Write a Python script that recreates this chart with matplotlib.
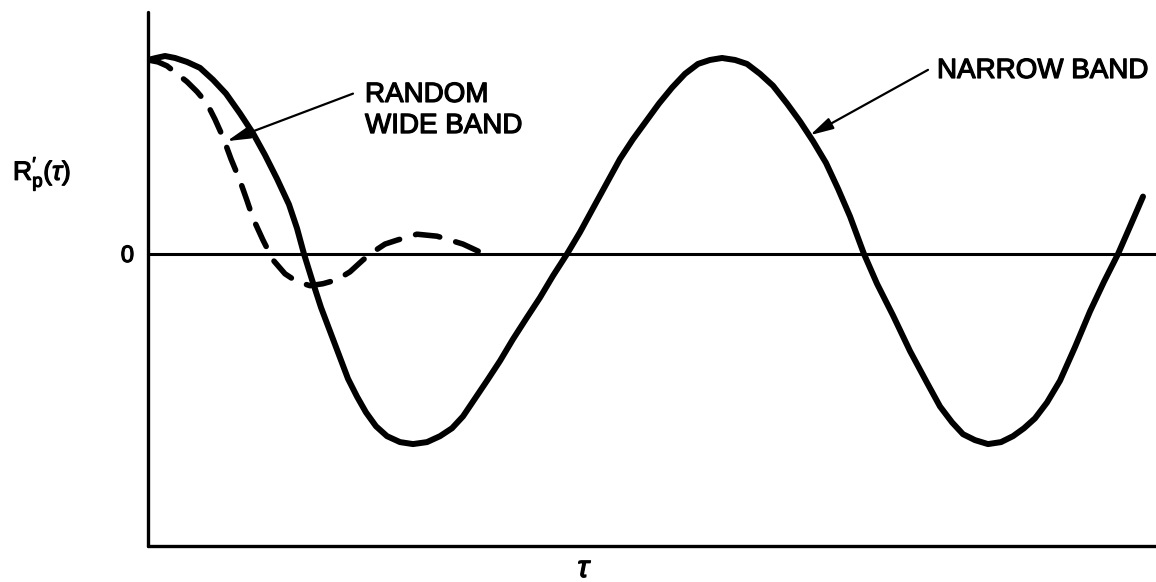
import matplotlib
matplotlib.use("Agg")
import matplotlib.pyplot as plt
import matplotlib.patheffects as pe

plt.rcParams['font.family'] = ['Liberation Sans', 'DejaVu Sans']
plt.rcParams['mathtext.fontset'] = 'custom'
plt.rcParams['mathtext.rm'] = 'Liberation Sans'
plt.rcParams['mathtext.it'] = 'Liberation Sans:italic'

# Narrow band autocorrelation (tau, R)
narrow_tau = [0.00, 0.08, 0.17, 0.27, 0.39, 0.52, 0.65, 0.78, 0.92, 1.05, 1.17, 1.29,
              1.41, 1.49, 1.56, 1.64, 1.73, 1.82, 1.91, 2.00, 2.09, 2.18, 2.28, 2.39,
              2.52, 2.65, 2.79, 2.92, 3.04, 3.15, 3.27, 3.39, 3.52, 3.65, 3.79, 3.92,
              4.05, 4.19, 4.32, 4.46, 4.59, 4.72, 4.85, 4.98, 5.11, 5.24, 5.37, 5.50,
              5.62, 5.74, 5.87, 5.99, 6.12, 6.25, 6.39, 6.52, 6.65, 6.78, 6.90, 7.02,
              7.16, 7.29, 7.45, 7.62, 7.79, 7.92, 8.04, 8.15, 8.27, 8.40, 8.53, 8.65,
              8.76, 8.87, 8.99, 9.12, 9.27, 9.42, 9.56, 9.70, 9.83, 9.95]
narrow_R = [0.98, 0.99, 1.00, 0.99, 0.97, 0.94, 0.88, 0.81, 0.71, 0.61, 0.50, 0.38,
            0.25, 0.13, 0.00, -0.13, -0.27, -0.39, -0.51, -0.63, -0.72, -0.80, -0.87, -0.92,
            -0.95, -0.96, -0.95, -0.92, -0.88, -0.82, -0.73, -0.64, -0.54, -0.43, -0.32, -0.22,
            -0.11, 0.00, 0.11, 0.24, 0.36, 0.48, 0.58, 0.67, 0.76, 0.84, 0.91, 0.96,
            0.98, 0.99, 0.98, 0.96, 0.91, 0.85, 0.76, 0.67, 0.57, 0.46, 0.33, 0.19,
            0.00, -0.15, -0.31, -0.49, -0.65, -0.77, -0.85, -0.91, -0.94, -0.96, -0.95, -0.92,
            -0.88, -0.83, -0.75, -0.64, -0.47, -0.29, -0.14, 0.00, 0.15, 0.29]

# Random wide band autocorrelation (tau, R)
wide_tau = [0.00, 0.10, 0.19, 0.29, 0.39, 0.49, 0.59, 0.67, 0.75, 0.83, 0.92, 0.99,
            1.05, 1.15, 1.25, 1.37, 1.49, 1.62, 1.75, 1.89, 2.02, 2.15, 2.25, 2.37,
            2.49, 2.69, 2.89, 3.02, 3.15, 3.32]
wide_R = [0.98, 0.97, 0.95, 0.91, 0.87, 0.82, 0.76, 0.68, 0.59, 0.48, 0.37, 0.27,
          0.18, 0.07, -0.03, -0.10, -0.14, -0.16, -0.15, -0.13, -0.09, -0.03, 0.01, 0.05,
          0.07, 0.10, 0.09, 0.07, 0.05, 0.01]

label_random = ["RANDOM", "WIDE BAND"]
label_narrow = "NARROW BAND"

W, H = 1156, 582
fig = plt.figure(figsize=(W / 100, H / 100), dpi=100)
left_px, right_px, top_px, bottom_px = 148, 1156, 12, 546
ax = fig.add_axes([left_px / W, (H - bottom_px) / H,
                   (right_px - left_px) / W, (bottom_px - top_px) / H])
xscale, yscale = 100.0, 198.0
ax.set_xlim(0, (right_px - left_px) / xscale)
ax.set_ylim((254 - bottom_px) / yscale, (254 - top_px) / yscale)

for s in ['top', 'right']:
    ax.spines[s].set_visible(False)
for s in ['left', 'bottom']:
    ax.spines[s].set_linewidth(2.4)
    ax.spines[s].set_capstyle('round')
ax.set_xticks([])
ax.set_yticks([])

ax.axhline(0, color='black', lw=2.2)

ax.plot(narrow_tau, narrow_R, color='black', lw=4.3,
        solid_joinstyle='round', solid_capstyle='round', zorder=3)
ax.plot(wide_tau, wide_R, color='black', lw=4.0, dashes=(4.4, 3.0),
        dash_capstyle='round', dash_joinstyle='round', zorder=3)

# Annotations
arrow = dict(arrowstyle='-|>,head_length=0.7,head_width=0.18', color='black',
             lw=1.6, shrinkA=0, shrinkB=0, mutation_scale=20)
ax.annotate('', xy=(0.79, 0.57), xytext=(2.05, 0.81), arrowprops=arrow)
ax.annotate('', xy=(6.62, 0.60), xytext=(7.80, 0.93), arrowprops=arrow)

heavy = [pe.withStroke(linewidth=0.9, foreground='black')]
ax.text(2.17, 0.768, label_random[0], fontsize=20, ha='left', va='baseline',
        path_effects=heavy)
ax.text(2.17, 0.611, label_random[1], fontsize=20, ha='left', va='baseline',
        path_effects=heavy)
ax.text(7.89, 0.889, label_narrow, fontsize=20, ha='left', va='baseline',
        path_effects=heavy)

# Axis labels
fig.text(13 / W, 1 - 180 / H, r"$\mathrm{R}_{\mathrm{p}}^{\prime}(\tau)$",
         fontsize=19, ha='left', va='baseline', path_effects=heavy)
fig.text(134 / W, 1 - 262 / H, "0", fontsize=17, ha='right', va='baseline',
         path_effects=heavy)
fig.text(585 / W, 1 - 577 / H, r"$\tau$", fontsize=22, ha='center', va='baseline',
         path_effects=heavy)

fig.savefig("out.png", dpi=100)
